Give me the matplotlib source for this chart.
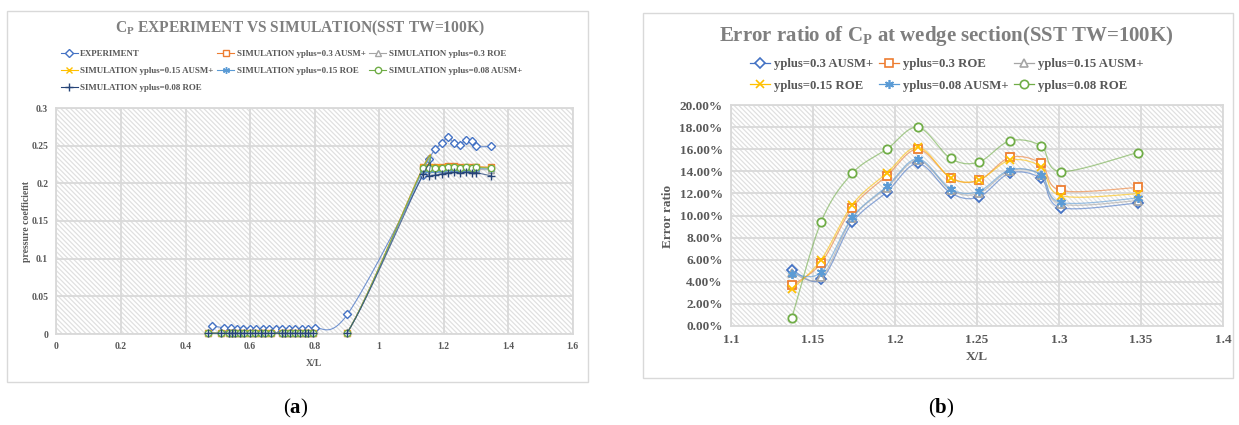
import numpy as np
import matplotlib
matplotlib.use("Agg")
import matplotlib.pyplot as plt
from matplotlib.patches import Rectangle
from matplotlib.lines import Line2D

plt.rcParams['font.family'] = ['Liberation Serif', 'DejaVu Serif']
plt.rcParams['font.weight'] = 'bold'
plt.rcParams['mathtext.fontset'] = 'custom'
plt.rcParams['mathtext.rm'] = 'Liberation Serif:bold'
plt.rcParams['mathtext.bf'] = 'Liberation Serif:bold'
plt.rcParams['hatch.linewidth'] = 0.9
plt.rcParams['hatch.color'] = '#e0e0e0'

# ---------------- data: chart (a) ----------------
exp_x = [0.481, 0.520, 0.540, 0.559, 0.579, 0.599, 0.620, 0.641, 0.660, 0.680, 0.699,
         0.720, 0.740, 0.760, 0.780, 0.800, 0.902, 1.137, 1.155, 1.174, 1.195, 1.214,
         1.234, 1.251, 1.270, 1.289, 1.301, 1.348]
exp_cp = [0.011, 0.008, 0.008, 0.007, 0.007, 0.006, 0.006, 0.006, 0.006, 0.006, 0.006,
          0.006, 0.006, 0.006, 0.007, 0.008, 0.026, 0.211, 0.232, 0.245, 0.253, 0.261,
          0.253, 0.251, 0.258, 0.256, 0.249, 0.249]

sim_x = [0.47, 0.51, 0.535, 0.545, 0.555, 0.57, 0.58, 0.60, 0.615, 0.635, 0.645, 0.665,
         0.70, 0.71, 0.725, 0.74, 0.755, 0.77, 0.78, 0.795, 0.90,
         1.137, 1.155, 1.174, 1.195, 1.214, 1.234, 1.251, 1.270, 1.289, 1.301, 1.348]
low_cp = [0.001] * 21
sim_a03 = low_cp + [0.2218, 0.2222, 0.2220, 0.2223, 0.2226, 0.2226, 0.2217, 0.2223, 0.2218, 0.2223, 0.2213]
sim_r03 = low_cp + [0.2187, 0.2188, 0.2188, 0.2186, 0.2192, 0.2191, 0.2179, 0.2187, 0.2183, 0.2184, 0.2178]
sim_a15 = low_cp + [0.2211, 0.2218, 0.2211, 0.2214, 0.2218, 0.2219, 0.2209, 0.2218, 0.2209, 0.2216, 0.2208]
sim_r15 = low_cp + [0.2180, 0.2181, 0.2181, 0.2180, 0.2188, 0.2191, 0.2179, 0.2193, 0.2191, 0.2196, 0.2192]
sim_a08 = low_cp + [0.2210, 0.2207, 0.2209, 0.2210, 0.2215, 0.2217, 0.2204, 0.2215, 0.2210, 0.2211, 0.2202]
sim_r08 = low_cp + [0.2125, 0.2101, 0.2111, 0.2125, 0.2141, 0.2146, 0.2138, 0.2148, 0.2143, 0.2142, 0.2099]

a_xticks = [0, 0.2, 0.4, 0.6, 0.8, 1, 1.2, 1.4, 1.6]
a_xticklabels = ['0', '0.2', '0.4', '0.6', '0.8', '1', '1.2', '1.4', '1.6']
a_yticks = [0, 0.05, 0.1, 0.15, 0.2, 0.25, 0.3]
a_yticklabels = ['0', '0.05', '0.1', '0.15', '0.2', '0.25', '0.3']

# ---------------- data: chart (b) ----------------
err_x = [1.137, 1.155, 1.174, 1.195, 1.214, 1.234, 1.251, 1.270, 1.289, 1.301, 1.348]
err_a03 = [5.11, 4.21, 9.38, 12.12, 14.71, 12.03, 11.67, 13.83, 13.35, 10.71, 11.13]
err_r03 = [3.67, 5.71, 10.71, 13.59, 16.00, 13.41, 13.17, 15.25, 14.71, 12.27, 12.54]
err_a15 = [4.80, 4.40, 9.75, 12.50, 15.00, 12.30, 12.00, 14.05, 13.70, 11.05, 11.35]
err_r15 = [3.31, 6.00, 10.98, 13.83, 16.18, 13.40, 13.20, 15.00, 14.40, 11.80, 11.97]
err_a08 = [4.75, 4.87, 9.83, 12.63, 15.13, 12.39, 12.18, 14.14, 13.68, 11.19, 11.58]
err_r08 = [0.69, 9.44, 13.83, 16.00, 17.98, 15.16, 14.83, 16.75, 16.30, 13.98, 15.70]

b_xticks = [1.1, 1.15, 1.2, 1.25, 1.3, 1.35, 1.4]
b_xticklabels = ['1.1', '1.15', '1.2', '1.25', '1.3', '1.35', '1.4']
b_yticks = [0, 2, 4, 6, 8, 10, 12, 14, 16, 18, 20]
b_yticklabels = ['0.00%', '2.00%', '4.00%', '6.00%', '8.00%', '10.00%', '12.00%',
                 '14.00%', '16.00%', '18.00%', '20.00%']

C_BLUE, C_ORANGE, C_GRAY = '#4472C4', '#ED7D31', '#A5A5A5'
C_YELLOW, C_LBLUE, C_GREEN, C_DBLUE = '#FFC000', '#5B9BD5', '#70AD47', '#264478'
STAR = (6, 2, 0)
TXT = '#595959'
GRID = '#d9d9d9'

W, H = 1239, 425
fig = plt.figure(figsize=(W / 100, H / 100), dpi=100)
fig.patch.set_facecolor('white')


def fx(px):
    return px / W


def fy(py):
    return 1 - py / H


def add_axes(x0, y0, x1, y1):
    return fig.add_axes([fx(x0), fy(y1), fx(x1) - fx(x0), fy(y0) - fy(y1)])


def smooth(ax, x, y, n=30):
    P = ax.transData.transform(np.column_stack([x, y]))
    m = len(P)
    out = []
    t = np.linspace(0, 1, n)[:, None]
    for i in range(m - 1):
        p0 = P[i - 1] if i > 0 else P[i]
        p1, p2 = P[i], P[i + 1]
        p3 = P[i + 2] if i + 2 < m else P[i + 1]
        c1 = p1 + (p2 - p0) / 6
        c2 = p2 - (p3 - p1) / 6
        seg = (1 - t) ** 3 * p1 + 3 * (1 - t) ** 2 * t * c1 + 3 * (1 - t) * t ** 2 * c2 + t ** 3 * p2
        out.append(seg if i == 0 else seg[1:])
    pts = ax.transData.inverted().transform(np.vstack(out))
    return pts[:, 0], pts[:, 1]


def style_axes(ax, xt, xtl, yt, ytl, fs):
    ax.add_patch(Rectangle((0, 0), 1, 1, transform=ax.transAxes, facecolor='white',
                           edgecolor='#e0e0e0', hatch='\\' * 7, lw=0, zorder=0))
    ax.set_facecolor('white')
    ax.set_xticks(xt)
    ax.set_xticklabels(xtl)
    ax.set_yticks(yt)
    ax.set_yticklabels(ytl)
    ax.tick_params(length=0, labelsize=fs, colors=TXT, pad=6)
    for lab in ax.get_xticklabels() + ax.get_yticklabels():
        lab.set_fontweight('bold')
    ax.grid(True, color=GRID, lw=1.3, zorder=0.5)
    ax.set_axisbelow(True)
    for s in ax.spines.values():
        s.set_color(GRID)
        s.set_linewidth(1.3)


# chart boxes
fig.patches.append(Rectangle((fx(7), fy(382)), fx(588) - fx(7), fy(11) - fy(382),
                             transform=fig.transFigure, fill=False, edgecolor='#d9d9d9', lw=1))
fig.patches.append(Rectangle((fx(643), fy(378)), fx(1233) - fx(643), fy(13) - fy(378),
                             transform=fig.transFigure, fill=False, edgecolor='#d9d9d9', lw=1))

# ---------------- chart (a) ----------------
axa = add_axes(56.5, 108, 572.5, 334)
axa.set_xlim(0, 1.6)
axa.set_ylim(0, 0.3)
style_axes(axa, a_xticks, a_xticklabels, a_yticks, a_yticklabels, 7)

a_series = [
    ('EXPERIMENT', exp_x, exp_cp, C_BLUE, 'D', 3.8),
    ('SIMULATION yplus=0.3 AUSM+', sim_x, sim_a03, C_ORANGE, 's', 4.6),
    ('SIMULATION yplus=0.3 ROE', sim_x, sim_r03, C_GRAY, '^', 4.6),
    ('SIMULATION yplus=0.15 AUSM+', sim_x, sim_a15, C_YELLOW, 'x', 4.6),
    ('SIMULATION yplus=0.15 ROE', sim_x, sim_r15, C_LBLUE, STAR, 5),
    ('SIMULATION yplus=0.08 AUSM+', sim_x, sim_a08, C_GREEN, 'o', 4.6),
    ('SIMULATION yplus=0.08 ROE', sim_x, sim_r08, C_DBLUE, '+', 5.5),
]
a_handles = {}
for k, (lab, xs, ys, col, mk, ms) in enumerate(a_series):
    sx, sy = smooth(axa, xs, ys)
    axa.plot(sx, sy, color=col, lw=0.8, alpha=0.75, zorder=2 + k)
    axa.plot(xs, ys, ls='none', marker=mk, ms=ms, mfc='white', mec=col, mew=1.0,
             zorder=2 + k, clip_on=False)
    a_handles[lab] = Line2D([], [], color=col, lw=0.8, alpha=1, marker=mk, ms=ms,
                            mfc='white', mec=col, mew=1.0)

order_a = ['EXPERIMENT', 'SIMULATION yplus=0.15 AUSM+', 'SIMULATION yplus=0.08 ROE',
           'SIMULATION yplus=0.3 AUSM+', 'SIMULATION yplus=0.15 ROE',
           'SIMULATION yplus=0.3 ROE', 'SIMULATION yplus=0.08 AUSM+']
leg = fig.legend([a_handles[k] for k in order_a], order_a, ncol=3, loc='upper left',
                 bbox_to_anchor=(fx(61), fy(50)), frameon=False,
                 handlelength=1.9, handletextpad=0.25, columnspacing=0.45,
                 labelspacing=1.0, borderaxespad=0, borderpad=0,
                 prop={'weight': 'bold', 'size': 6.4})
for t in leg.get_texts():
    t.set_color(TXT)

fig.text(fx(300), fy(28), r'C$_{\mathregular{P}}$ EXPERIMENT VS SIMULATION(SST TW=100K)',
         ha='center', va='center', fontsize=11.2, color='#7f7f7f', weight='bold')
fig.text(fx(314), fy(363), 'X/L', ha='center', va='center', fontsize=7, color=TXT, weight='bold')
fig.text(fx(27), fy(221), 'pressure coefficient', ha='center', va='center', fontsize=7,
         color=TXT, weight='bold', rotation=90)

# ---------------- chart (b) ----------------
axb = add_axes(731, 105, 1223, 326)
axb.set_xlim(1.1, 1.4)
axb.set_ylim(0, 20)
style_axes(axb, b_xticks, b_xticklabels, b_yticks, b_yticklabels, 9.5)

b_series = [
    ('yplus=0.3 AUSM+', err_a03, C_BLUE, 'D', 4.6),
    ('yplus=0.3 ROE', err_r03, C_ORANGE, 's', 6),
    ('yplus=0.15 AUSM+', err_a15, C_GRAY, '^', 5.5),
    ('yplus=0.15 ROE', err_r15, C_YELLOW, 'x', 6),
    ('yplus=0.08 AUSM+', err_a08, C_LBLUE, STAR, 6.5),
    ('yplus=0.08 ROE', err_r08, C_GREEN, 'o', 6),
]
b_handles = {}
for k, (lab, ys, col, mk, ms) in enumerate(b_series):
    sx, sy = smooth(axb, err_x, ys)
    axb.plot(sx, sy, color=col, lw=0.9, alpha=0.6, zorder=2 + k)
    axb.plot(err_x, ys, ls='none', marker=mk, ms=ms, mfc='white', mec=col, mew=1.3,
             zorder=2 + k, clip_on=False)
    b_handles[lab] = Line2D([], [], color=col, lw=0.9, marker=mk, ms=ms,
                            mfc='white', mec=col, mew=1.2)

order_b = ['yplus=0.3 AUSM+', 'yplus=0.15 ROE', 'yplus=0.3 ROE', 'yplus=0.08 AUSM+',
           'yplus=0.15 AUSM+', 'yplus=0.08 ROE']
legb = fig.legend([b_handles[k] for k in order_b], order_b, ncol=3, loc='upper left',
                  bbox_to_anchor=(fx(750), fy(58)), frameon=False,
                  handlelength=1.6, handletextpad=0.3, columnspacing=0.4,
                  labelspacing=0.75, borderaxespad=0, borderpad=0,
                  prop={'weight': 'bold', 'size': 9.2})
for t in legb.get_texts():
    t.set_color(TXT)

fig.text(fx(946), fy(36), r'Error ratio of C$_{\mathregular{P}}$ at wedge section(SST TW=100K)',
         ha='center', va='center', fontsize=15, color='#7f7f7f', weight='bold')
fig.text(fx(977), fy(357), 'X/L', ha='center', va='center', fontsize=9.5, color=TXT, weight='bold')
fig.text(fx(668), fy(216), 'Error ratio', ha='center', va='center', fontsize=9.5,
         color=TXT, weight='bold', rotation=90)

# panel labels
for xc, letter in [(296, 'a'), (941, 'b')]:
    fig.text(fx(xc), fy(408), '(' + r'$\mathbf{' + letter + '}$' + ')', ha='center',
             va='center', fontsize=15, color='black', weight='normal')

fig.savefig('out.png', dpi=100, facecolor='white')
